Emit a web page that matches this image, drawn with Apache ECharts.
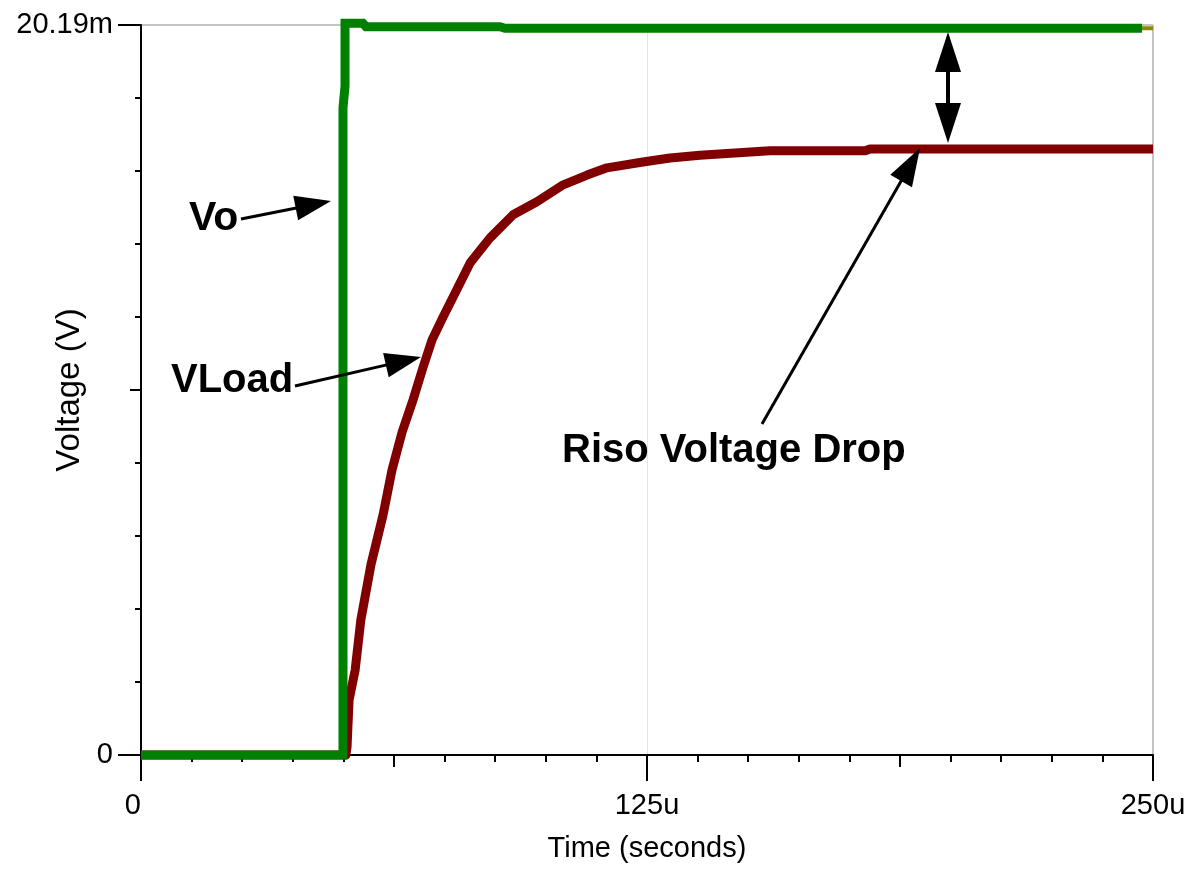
<!DOCTYPE html>
<html>
<head>
<meta charset="utf-8">
<script src="https://cdn.jsdelivr.net/npm/echarts@6/dist/echarts.min.js"></script>
<style>
html,body{margin:0;padding:0;background:#fff;}
#chart{width:1202px;height:872px;}
</style>
</head>
<body>
<div id="chart"></div>
<script>
// ---- data (time in microseconds, voltage in millivolts) ----
const timeVo   = [0, 49.9, 49.9, 50.4, 50.4, 54.8, 55.6, 88.7, 89.9, 247.3];
const vo       = [0, 0, 17.9, 18.5, 20.24, 20.24, 20.14, 20.14, 20.10, 20.10];
const timeVoEnd = [247.3, 250];
const voEnd     = [20.10, 20.10];
const timeLoad = [0, 50.6, 50.9, 51.4, 52.9, 54.3, 56.8, 59.8, 62.0, 64.5, 67.2, 69.7, 71.9, 74.6, 77.1, 81.3, 86.2, 91.9, 97.8, 104.3, 110.2, 115.1, 124.0, 130.7, 138.1, 146.7, 155.4, 178.9, 180.1, 250];
const vLoad    = [0, 0, 0.22, 1.52, 2.35, 3.73, 5.26, 6.64, 7.88, 8.93, 9.82, 10.73, 11.48, 12.11, 12.67, 13.61, 14.30, 14.94, 15.30, 15.77, 16.04, 16.24, 16.40, 16.51, 16.59, 16.65, 16.71, 16.71, 16.76, 16.76];
const xTickLabels = ['0', '125u', '250u'];
const yTickLabels = ['0', '20.19m'];
const X_MAX = 250;
const Y_MAX = 20.19;

const zip = (a, b) => a.map((v, i) => [v, b[i]]);

const FONT = '"Liberation Sans", Arial, sans-serif';
const chart = echarts.init(document.getElementById('chart'), null, {renderer: 'canvas'});

function xAx(interval, tickLen, extra) {
  return Object.assign({
    type: 'value', min: 0, max: X_MAX, interval: interval, position: 'bottom',
    axisLine: {show: true, lineStyle: {color: '#000', width: 2}},
    axisTick: {show: true, length: tickLen, lineStyle: {color: '#000', width: 2}},
    axisLabel: {show: false},
    splitLine: {show: false}
  }, extra || {});
}
function yAx(interval, tickLen, extra) {
  return Object.assign({
    type: 'value', min: 0, max: Y_MAX, interval: interval, position: 'left',
    axisLine: {show: true, lineStyle: {color: '#000', width: 2}},
    axisTick: {show: true, length: tickLen, lineStyle: {color: '#000', width: 2}},
    axisLabel: {show: false},
    splitLine: {show: false}
  }, extra || {});
}

function arrow(x1, y1, x2, y2, headLen, headW, lw) {
  const dx = x2 - x1, dy = y2 - y1;
  const L = Math.sqrt(dx * dx + dy * dy);
  const ux = dx / L, uy = dy / L;
  const bx = x2 - ux * headLen, by = y2 - uy * headLen;
  const px = -uy, py = ux;
  return [
    {type: 'line', shape: {x1: x1, y1: y1, x2: bx + ux * 2, y2: by + uy * 2}, style: {stroke: '#000', lineWidth: lw}, z: 100},
    {type: 'polygon', shape: {points: [[x2, y2], [bx + px * headW / 2, by + py * headW / 2], [bx - px * headW / 2, by - py * headW / 2]]}, style: {fill: '#000'}, z: 100}
  ];
}

const graphics = [].concat(
  arrow(241, 219, 331, 201, 36, 25, 3),
  arrow(295, 386, 421, 357, 36, 25, 3),
  arrow(762, 424, 920, 148, 38, 25, 3),
  arrow(948, 88, 948, 32, 40, 26, 4),
  arrow(948, 88, 948, 143, 40, 26, 4),
  [
    {type: 'text', z: 100, style: {text: 'Vo', x: 189, y: 219, font: 'bold 41px ' + FONT, align: 'left', verticalAlign: 'middle', fill: '#000'}},
    {type: 'text', z: 100, style: {text: 'VLoad', x: 171, y: 381, font: 'bold 40px ' + FONT, align: 'left', verticalAlign: 'middle', fill: '#000'}},
    {type: 'text', z: 100, style: {text: 'Riso Voltage Drop', x: 562, y: 451, font: 'bold 40px ' + FONT, align: 'left', verticalAlign: 'middle', fill: '#000'}}
  ]
);

const option = {
  backgroundColor: '#fff',
  animation: false,
  grid: {left: 141, top: 25, right: 49, bottom: 117, containLabel: false},
  xAxis: [
    xAx(X_MAX / 20, 7, {
      name: 'Time (seconds)', nameLocation: 'middle', nameGap: 79,
      nameTextStyle: {fontSize: 29, fontFamily: FONT, color: '#000'}
    }),
    xAx(X_MAX / 4, 12, {axisLine: {show: false}}),
    xAx(X_MAX / 2, 26, {
      axisLine: {show: false},
      axisLabel: {show: true, fontSize: 29, fontFamily: FONT, color: '#000', margin: 36,
        alignMinLabel: 'right',
        formatter: (v) => xTickLabels[Math.round(v / (X_MAX / 2))]},
      splitLine: {show: true, lineStyle: {color: '#e4e4e4', width: 1}}
    }),
    xAx(X_MAX, 0, {
      axisLine: {show: false}, axisTick: {show: false},
      splitLine: {show: true, lineStyle: {color: '#c4c4c4', width: 2}}
    })
  ],
  yAxis: [
    yAx(Y_MAX / 10, 6, {
      name: 'Voltage (V)', nameLocation: 'middle', nameGap: 55,
      nameTextStyle: {fontSize: 33, fontFamily: FONT, color: '#000'}
    }),
    yAx(Y_MAX / 2, 11, {axisLine: {show: false}}),
    yAx(Y_MAX, 23, {
      axisLine: {show: false},
      axisLabel: {show: true, fontSize: 29, fontFamily: FONT, color: '#000', margin: 28,
        formatter: (v, i) => yTickLabels[i]},
      splitLine: {show: true, lineStyle: {color: '#c4c4c4', width: 2}}
    })
  ],
  series: [
    {
      name: 'VLoad', type: 'line', xAxisIndex: 0, yAxisIndex: 0, clip: false,
      data: zip(timeLoad, vLoad), showSymbol: false, symbol: 'none',
      lineStyle: {color: '#800000', width: 9, cap: 'butt', join: 'round'}, z: 3
    },
    {
      name: 'VoEnd', type: 'line', xAxisIndex: 0, yAxisIndex: 0, clip: false,
      data: zip(timeVoEnd, voEnd), showSymbol: false, symbol: 'none',
      lineStyle: {color: '#8a8a00', width: 4, cap: 'butt'}, z: 3
    },
    {
      name: 'Vo', type: 'line', xAxisIndex: 0, yAxisIndex: 0, clip: false,
      data: zip(timeVo, vo), showSymbol: false, symbol: 'none',
      lineStyle: {color: '#008000', width: 9, cap: 'butt', join: 'miter'}, z: 4
    }
  ],
  graphic: graphics
};
chart.setOption(option);
</script>
</body>
</html>
